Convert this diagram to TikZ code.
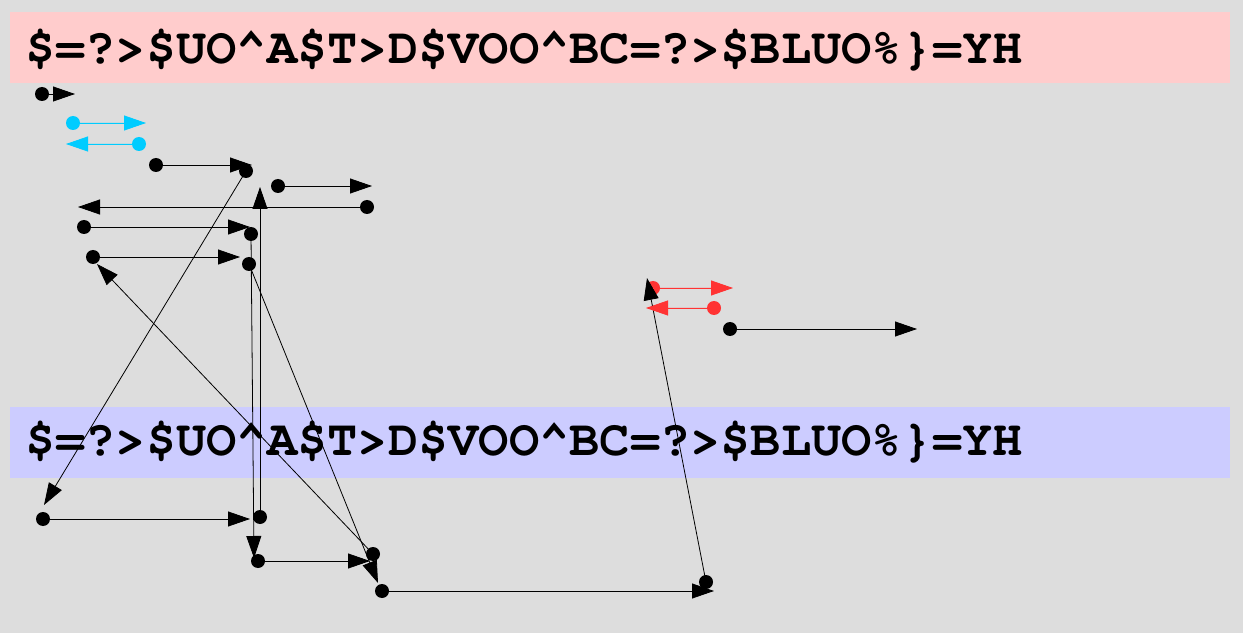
\documentclass[tikz,border=0pt]{standalone}
\usepackage{fontspec}
\newfontfamily\cursorfont{texgyrecursor-bold.otf}
\usetikzlibrary{arrows.meta}
\definecolor{bgc}{RGB}{221,221,221}
\definecolor{pinkband}{RGB}{255,204,204}
\definecolor{blueband}{RGB}{204,204,255}
\definecolor{cyanc}{RGB}{0,204,255}
\definecolor{redc}{RGB}{255,51,51}
\tikzset{
  dot/.style={circle,fill=black,inner sep=0pt,minimum size=14bp},
  cdot/.style={dot,fill=cyanc},
  rdot/.style={dot,fill=redc},
  edge/.style={draw=black,line width=0.8bp,-{Triangle[length=22bp,width=15bp]}},
  cedge/.style={edge,draw=cyanc,fill=cyanc},
  redge/.style={edge,draw=redc,fill=redc},
  title/.style={anchor=base west,inner sep=0pt,font=\fontsize{50.4bp}{60bp}\selectfont\cursorfont}
}
\begin{document}
\begin{tikzpicture}[x=1bp,y=-1bp]
\fill[bgc] (0,0) rectangle (1243,633);
\useasboundingbox (0,0) rectangle (1243,633);
\fill[pinkband] (10,12) rectangle (1230,83);
\fill[blueband] (10,407) rectangle (1230,478);
\node[title] (t1) at (25,64) {\$=?>\$UO\textasciicircum A\$T>D\$VOO\textasciicircum BC=?>\$BLUO\%\}=YH};
\node[title] (t2) at (25,455) {\$=?>\$UO\textasciicircum A\$T>D\$VOO\textasciicircum BC=?>\$BLUO\%\}=YH};
% dots
\node[dot] (d1) at (42,94) {};
\node[cdot] (c1) at (73,123) {};
\node[cdot] (c2) at (139,144) {};
\node[dot] (d3) at (156,165) {};
\node[dot] (d4) at (246,171) {};
\node[dot] (d5) at (278,186) {};
\node[dot] (d6) at (367,207) {};
\node[dot] (d7) at (84,227) {};
\node[dot] (d10) at (251,234) {};
\node[dot] (d8) at (93,257) {};
\node[dot] (d11) at (249,264) {};
\node[dot] (d13) at (43,519) {};
\node[dot] (d9) at (260,517) {};
\node[dot] (d14) at (258,561) {};
\node[dot] (d12) at (373,554) {};
\node[dot] (d15) at (382,591) {};
\node[dot] (d16) at (706,582) {};
\node[rdot] (r1) at (653,288) {};
\node[rdot] (r2) at (714,308) {};
\node[dot] (d18) at (730,329) {};
% tips
\coordinate (t-d1) at (75,94);
\coordinate (t-c1) at (146,123);
\coordinate (t-c2) at (66,144);
\coordinate (t-d3) at (252,165);
\coordinate (t-d4) at (44,505);
\coordinate (t-d5) at (372,186);
\coordinate (t-d6) at (78,207);
\coordinate (t-d7) at (250,227);
\coordinate (t-d8) at (240,257);
\coordinate (t-d9) at (260,187);
\coordinate (t-d10) at (254,558);
\coordinate (t-d11) at (378,583);
\coordinate (t-d12) at (97,264);
\coordinate (t-d13) at (250,519);
\coordinate (t-d14) at (370,561);
\coordinate (t-d15) at (714,591);
\coordinate (t-d16) at (647,278);
\coordinate (t-r1) at (733,288);
\coordinate (t-r2) at (646,308);
\coordinate (t-d18) at (917,329);
% edges
\draw[edge] (d1.center) -- (t-d1);
\draw[cedge] (c1.center) -- (t-c1);
\draw[cedge] (c2.center) -- (t-c2);
\draw[edge] (d3.center) -- (t-d3);
\draw[edge] (d4.center) -- (t-d4);
\draw[edge] (d5.center) -- (t-d5);
\draw[edge] (d6.center) -- (t-d6);
\draw[edge] (d7.center) -- (t-d7);
\draw[edge] (d8.center) -- (t-d8);
\draw[edge] (d9.center) -- (t-d9);
\draw[edge] (d10.center) -- (t-d10);
\draw[edge] (d11.center) -- (t-d11);
\draw[edge] (d12.center) -- (t-d12);
\draw[edge] (d13.center) -- (t-d13);
\draw[edge] (d14.center) -- (t-d14);
\draw[edge] (d15.center) -- (t-d15);
\draw[edge] (d16.center) -- (t-d16);
\draw[redge] (r1.center) -- (t-r1);
\draw[redge] (r2.center) -- (t-r2);
\draw[edge] (d18.center) -- (t-d18);
\end{tikzpicture}
\end{document}
